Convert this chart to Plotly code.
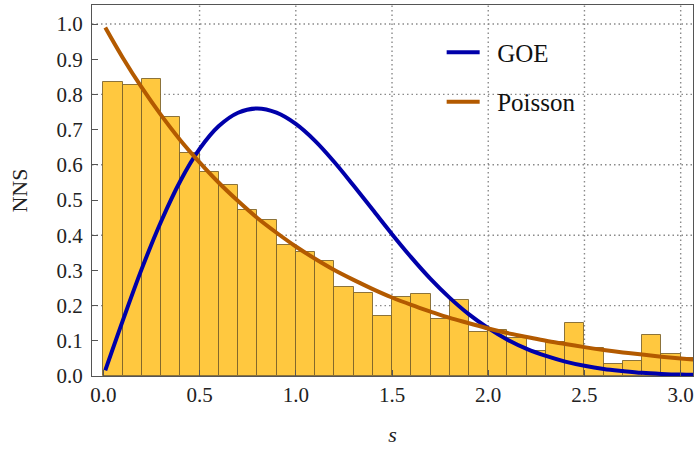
import plotly.graph_objects as go

# Histogram (bin width 0.1)
bin_left = [0.0, 0.1, 0.2, 0.3, 0.4, 0.5, 0.6, 0.7, 0.8, 0.9,
            1.0, 1.1, 1.2, 1.3, 1.4, 1.5, 1.6, 1.7, 1.8, 1.9,
            2.0, 2.1, 2.2, 2.3, 2.4, 2.5, 2.6, 2.7, 2.8, 2.9, 3.0]
nns_hist = [0.835, 0.828, 0.845, 0.735, 0.634, 0.580, 0.543, 0.471, 0.443, 0.371,
            0.352, 0.326, 0.252, 0.235, 0.170, 0.224, 0.234, 0.161, 0.216, 0.125,
            0.130, 0.108, 0.071, 0.098, 0.152, 0.080, 0.033, 0.043, 0.116, 0.062, 0.050]

# Curves
s_curve = [0.01, 0.1, 0.2, 0.3, 0.4, 0.5, 0.6, 0.7, 0.8, 0.9,
           1.0, 1.1, 1.2, 1.3, 1.4, 1.5, 1.6, 1.7, 1.8, 1.9,
           2.0, 2.1, 2.2, 2.3, 2.4, 2.5, 2.6, 2.7, 2.8, 2.9, 3.0, 3.1]
goe = [0.016, 0.156, 0.305, 0.439, 0.554, 0.645, 0.710, 0.748, 0.760, 0.748,
       0.716, 0.668, 0.608, 0.541, 0.472, 0.403, 0.337, 0.276, 0.222, 0.175,
       0.136, 0.103, 0.077, 0.057, 0.041, 0.029, 0.020, 0.014, 0.009, 0.006, 0.004, 0.003]
poisson = [0.990, 0.905, 0.819, 0.741, 0.670, 0.607, 0.549, 0.497, 0.449, 0.407,
           0.368, 0.333, 0.301, 0.273, 0.247, 0.223, 0.202, 0.183, 0.165, 0.150,
           0.135, 0.122, 0.111, 0.100, 0.091, 0.082, 0.074, 0.067, 0.061, 0.055, 0.050, 0.045]

x_ticks = [0.0, 0.5, 1.0, 1.5, 2.0, 2.5, 3.0]
y_ticks = [0.0, 0.1, 0.2, 0.3, 0.4, 0.5, 0.6, 0.7, 0.8, 0.9, 1.0]
x_grid = [0.5, 1.0, 1.5, 2.0, 2.5, 3.0]
y_grid = [0.2, 0.4, 0.6, 0.8, 1.0]

FONT = "Liberation Serif"
XR = [-0.059, 3.064]
YR = [0.0, 1.054]
FRAME = "#555555"
GRID = "#8a8a8a"
PAD = "\u00a0\u00a0"

fig = go.Figure()

fig.add_trace(go.Bar(
    x=bin_left, y=nns_hist, width=0.1, offset=0,
    marker=dict(color="#FFC83F", line=dict(color="rgba(120,95,40,0.85)", width=1)),
    showlegend=False, hoverinfo="skip",
))
fig.add_trace(go.Scatter(
    x=s_curve, y=goe, mode="lines", name=PAD + "GOE", line_shape="spline",
    line=dict(color="#0000AA", width=4), legendgroup="a",
))
fig.add_trace(go.Scatter(
    x=s_curve, y=poisson, mode="lines", name=PAD + "Poisson", line_shape="spline",
    line=dict(color="#B35A00", width=4), legendgroup="b",
))

for gx in x_grid:
    fig.add_vline(x=gx, layer="below", line=dict(color=GRID, width=1.4, dash="1.5px,3px"))
for gy in y_grid:
    fig.add_hline(y=gy, layer="below", line=dict(color=GRID, width=1.4, dash="1.5px,3px"))

fig.update_layout(
    width=696, height=452,
    margin=dict(l=92, r=3, t=5, b=76),
    paper_bgcolor="white", plot_bgcolor="white",
    font=dict(family=FONT, size=21, color="#222222"),
    bargap=0,
    showlegend=True,
    legend=dict(x=0.5818, y=0.934, xanchor="left", yanchor="top",
                bgcolor="rgba(0,0,0,0)", font=dict(family=FONT, size=25, color="#111111"),
                traceorder="grouped", tracegroupgap=14, itemwidth=33),
    xaxis=dict(
        range=XR, tickvals=x_ticks, ticktext=[f"{v:.1f}" for v in x_ticks],
        ticks="inside", ticklen=6, tickcolor=FRAME, showgrid=False, zeroline=False,
        showline=True, linecolor=FRAME, linewidth=1, mirror=True,
        title=dict(text="<i>s</i>", font=dict(family=FONT, size=22), standoff=20),
    ),
    yaxis=dict(
        range=YR, tickvals=y_ticks, ticktext=[f"{v:.1f}" for v in y_ticks],
        ticks="inside", ticklen=6, tickcolor=FRAME, showgrid=False, zeroline=False,
        showline=True, linecolor=FRAME, linewidth=1, mirror=True, ticklabelstandoff=4,
        title=dict(text="NNS", font=dict(family=FONT, size=22), standoff=22),
    ),
)

fig.write_html("out.html")
